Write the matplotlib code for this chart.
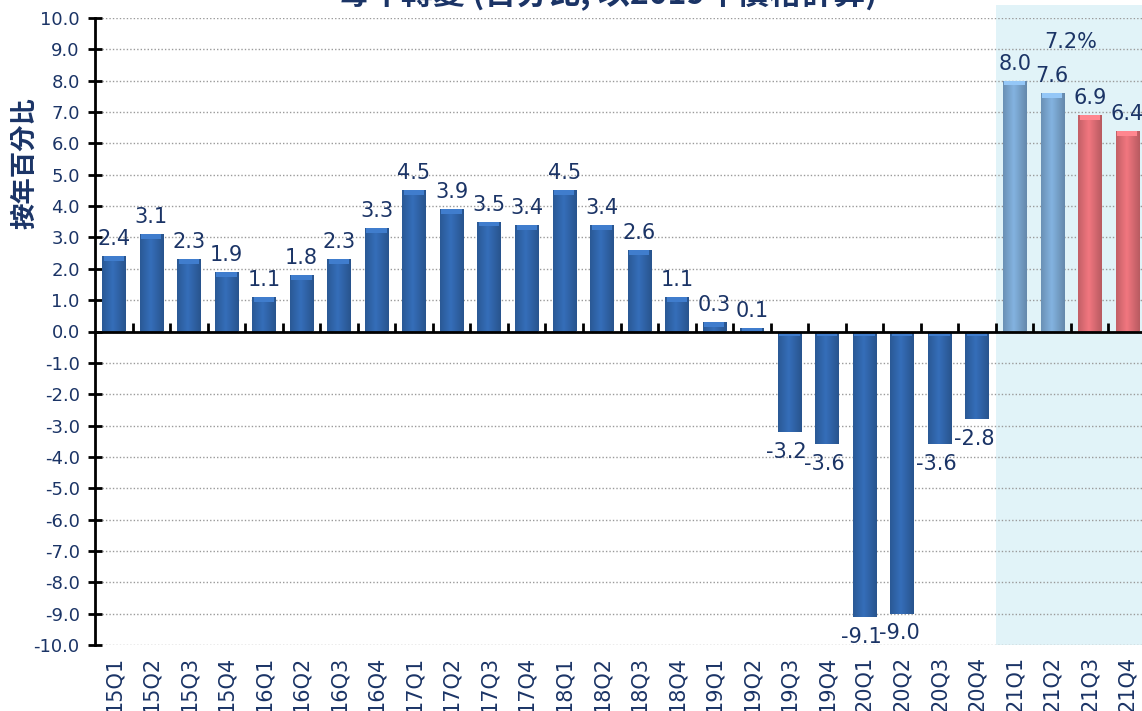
import matplotlib
matplotlib.use("Agg")
import matplotlib.pyplot as plt
import matplotlib.colors as mcolors
from matplotlib.patches import Rectangle
import numpy as np

plt.rcParams['font.family'] = ['DejaVu Sans', 'Noto Sans CJK TC']

quarters = ["15Q1", "15Q2", "15Q3", "15Q4", "16Q1", "16Q2", "16Q3", "16Q4",
            "17Q1", "17Q2", "17Q3", "17Q4", "18Q1", "18Q2", "18Q3", "18Q4",
            "19Q1", "19Q2", "19Q3", "19Q4", "20Q1", "20Q2", "20Q3", "20Q4",
            "21Q1", "21Q2", "21Q3", "21Q4"]
growth = [2.4, 3.1, 2.3, 1.9, 1.1, 1.8, 2.3, 3.3,
          4.5, 3.9, 3.5, 3.4, 4.5, 3.4, 2.6, 1.1,
          0.3, 0.1, -3.2, -3.6, -9.1, -9.0, -3.6, -2.8,
          8.0, 7.6, 6.9, 6.4]
# actual / forecast (first half) / forecast (second half)
kind = ["actual"] * 24 + ["fc1"] * 2 + ["fc2"] * 2
annual_forecast = "7.2%"
title = "每年轉變 (百分比, 以2019年價格計算)"
ylabel = "按年百分比"

colors = {"actual": "#3166AC", "fc1": "#7AA6D0", "fc2": "#E06E76"}
navy = "#1B3466"

fig = plt.figure(figsize=(11.42, 7.11), dpi=100)
ax = fig.add_axes([95 / 1142, 66 / 711, 1051 / 1142, 627 / 711])

x = np.arange(len(quarters))

# forecast shading
ax.add_patch(Rectangle((23.5, 0), 10, 1.02, transform=ax.get_xaxis_transform(),
                       facecolor="#E1F3F8", edgecolor="none", zorder=0, clip_on=False))

ax.set_yticks(np.arange(-10, 11, 1))
ax.set_yticklabels([f"{v:.1f}" for v in np.arange(-10, 11, 1)], fontsize=13, color=navy)
ax.yaxis.grid(True, linestyle=(0, (1, 1.5)), color="#9A9A9A", linewidth=1, zorder=1)
ax.set_axisbelow(True)

bars = ax.bar(x, growth, width=0.62, color=[colors[k] for k in kind],
              edgecolor="none", zorder=3)

# glossy look: horizontal gradient + light top bevel
t = np.linspace(0, 1, 64)
for rect, k, v in zip(bars, kind, growth):
    c = np.array(mcolors.to_rgb(colors[k]))
    light = 0.82 + 0.26 * (1 - np.abs(t - 0.45) / 0.55)
    grad = np.clip(c[None, :] * light[:, None], 0, 1)[None, :, :]
    bx, bw = rect.get_x(), rect.get_width()
    im = ax.imshow(grad, extent=[bx, bx + bw, min(0, v), max(0, v)],
                   aspect="auto", zorder=3.1, interpolation="bicubic")
    im.set_clip_path(rect)
    top = max(0, v)
    bev = min(0.15, abs(v))
    ax.add_patch(Rectangle((bx + 0.04, top - bev), bw - 0.08, bev,
                           facecolor=np.clip(c * 1.15 + 0.03, 0, 1), edgecolor="none", zorder=3.2))

ax.set_xlim(-0.5, len(quarters) - 0.5)
ax.set_ylim(-10, 10)

# value labels
for xi, v in zip(x, growth):
    if v >= 0:
        ax.annotate(f"{v:.1f}", (xi, v), xytext=(0, 5), textcoords="offset points",
                    ha="center", va="bottom", fontsize=15, color=navy, zorder=5)
    else:
        ax.annotate(f"{v:.1f}", (xi, v), xytext=(-2, -7), textcoords="offset points",
                    ha="center", va="top", fontsize=15, color=navy, zorder=5)

ax.text(25.5, 9.25, annual_forecast, ha="center", va="center", fontsize=15, color=navy)

# zero line with category separators
ax.axhline(0, color="black", linewidth=2, zorder=4)
ax.vlines(x[:-1] + 0.5, 0, 0.28, color="black", linewidth=2, zorder=4)

ax.set_xticks(x)
ax.set_xticklabels(quarters, rotation=90, fontsize=15, color=navy)
ax.tick_params(axis="x", length=0, pad=8)
ax.tick_params(axis="y", direction="inout", length=10, width=2, pad=6)

for s in ["top", "right", "bottom"]:
    ax.spines[s].set_visible(False)
ax.spines["left"].set_linewidth(2)

fig.text(25 / 1142, 1 - 163 / 711, ylabel, rotation=90, ha="center", va="center",
         fontsize=19, fontweight="bold", color=navy, family="Noto Sans CJK TC")
fig.text(607 / 1142, 1 - 4 / 711, title, ha="center", va="baseline",
         fontsize=23, fontweight="bold", color=navy, family="Noto Sans CJK TC")

fig.savefig("out.png", dpi=100)
